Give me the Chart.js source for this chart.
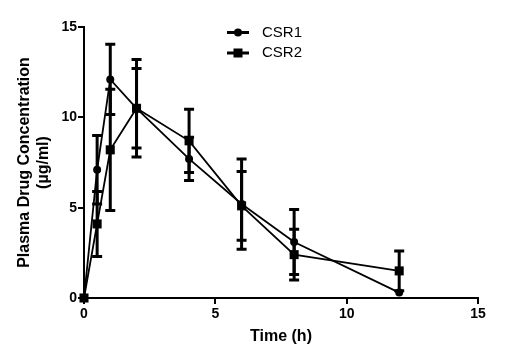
<!DOCTYPE html>
<html>
<head>
<meta charset="utf-8">
<script src="https://cdn.jsdelivr.net/npm/chart.js@4/dist/chart.umd.min.js"></script>
<style>
html,body{margin:0;padding:0;background:#fff;}
#wrap{width:527px;height:360px;position:relative;}
</style>
</head>
<body>
<div id="wrap"><canvas id="c" width="527" height="360"></canvas></div>
<script>
// ---- data ----
const timeH = [0, 0.5, 1, 2, 4, 6, 8, 12];
const seriesNames = ['CSR1', 'CSR2'];
const csr1 = [0, 7.1, 12.1, 10.5, 7.7, 5.2, 3.1, 0.3];
const csr1Sd = [0, 1.9, 1.95, 2.2, 1.2, 2.5, 1.8, 0];
const csr2 = [0, 4.1, 8.2, 10.5, 8.7, 5.1, 2.4, 1.5];
const csr2Sd = [0, 1.8, 3.35, 2.7, 1.75, 1.9, 1.4, 1.1];
const xTicks = [0, 5, 10, 15];
const yTicks = [0, 5, 10, 15];
const xTitle = 'Time (h)';
const yTitle = ['Plasma Drug Concentration', '(µg/ml)'];

const FONT = 'Arial, "Liberation Sans", sans-serif';
const sds = [csr1Sd, csr2Sd];

const errorBars = {
  id: 'errorBars',
  beforeDatasetsDraw(chart) {
    const ctx = chart.ctx;
    const xs = chart.scales.x, ys = chart.scales.y;
    ctx.save();
    ctx.strokeStyle = '#000';
    ctx.lineWidth = 3;
    ctx.lineCap = 'butt';
    chart.data.datasets.forEach((ds, di) => {
      ds.data.forEach((p, i) => {
        const sd = sds[di][i];
        if (!sd) return;
        const x = xs.getPixelForValue(p.x);
        const yt = ys.getPixelForValue(p.y + sd);
        const yb = ys.getPixelForValue(p.y - sd);
        ctx.beginPath();
        ctx.moveTo(x, yt); ctx.lineTo(x, yb);
        ctx.moveTo(x - 5, yt); ctx.lineTo(x + 5, yt);
        ctx.moveTo(x - 5, yb); ctx.lineTo(x + 5, yb);
        ctx.stroke();
      });
    });
    ctx.restore();
  }
};

const customLegend = {
  id: 'customLegend',
  afterDraw(chart) {
    const ctx = chart.ctx;
    ctx.save();
    const rows = [32.5, 53];
    chart.data.datasets.forEach((ds, i) => {
      const y = rows[i];
      ctx.strokeStyle = '#000';
      ctx.lineWidth = 3;
      ctx.beginPath();
      ctx.moveTo(227, y); ctx.lineTo(249, y);
      ctx.stroke();
      ctx.fillStyle = '#000';
      if (ds.pointStyle === 'rect') {
        ctx.fillRect(238 - 4.5, y - 4.5, 9, 9);
      } else {
        ctx.beginPath();
        ctx.arc(238, y, 4, 0, Math.PI * 2);
        ctx.fill();
      }
      ctx.font = '15px ' + FONT;
      ctx.textBaseline = 'middle';
      ctx.textAlign = 'left';
      ctx.fillText(ds.label, 262, y);
    });
    ctx.restore();
  }
};

const mk = (vals) => vals.map((v, i) => ({x: timeH[i], y: v}));

new Chart(document.getElementById('c'), {
  type: 'line',
  data: {
    datasets: [
      {label: seriesNames[0], data: mk(csr1), borderColor: '#000', backgroundColor: '#000',
       borderWidth: 1.8, pointStyle: 'circle', pointRadius: 4, pointBorderWidth: 0, tension: 0, clip: false},
      {label: seriesNames[1], data: mk(csr2), borderColor: '#000', backgroundColor: '#000',
       borderWidth: 1.8, pointStyle: 'rect', pointRadius: 6.4, pointBorderWidth: 0, tension: 0, clip: false}
    ]
  },
  options: {
    responsive: false,
    animation: false,
    devicePixelRatio: 1,
    layout: {padding: {top: 27, right: 49, left: 0, bottom: 0}},
    plugins: {legend: {display: false}, tooltip: {enabled: false}},
    scales: {
      x: {
        type: 'linear', min: 0, max: 15,
        afterFit(s) { s.height = 62; },
        afterBuildTicks(s) { s.ticks = xTicks.map(v => ({value: v})); },
        ticks: {color: '#000', font: {family: FONT, size: 14, weight: 'bold'}, padding: 2, maxRotation: 0},
        grid: {display: true, drawOnChartArea: false, drawTicks: true, tickLength: 6, color: '#000', lineWidth: 2},
        border: {display: true, color: '#000', width: 2},
        title: {display: true, text: xTitle, color: '#000', font: {family: FONT, size: 16, weight: 'bold'}, padding: {top: 0, bottom: 13.5}}
      },
      y: {
        type: 'linear', min: 0, max: 15,
        afterFit(s) { s.width = 84; },
        afterBuildTicks(s) { s.ticks = yTicks.map(v => ({value: v})); },
        ticks: {color: '#000', font: {family: FONT, size: 14, weight: 'bold'}, padding: 1},
        grid: {display: true, drawOnChartArea: false, drawTicks: true, tickLength: 6, color: '#000', lineWidth: 2},
        border: {display: true, color: '#000', width: 2},
        title: {display: true, text: yTitle, color: '#000', font: {family: FONT, size: 16, weight: 'bold'}, padding: {top: 15, bottom: 0}}
      }
    }
  },
  plugins: [errorBars, customLegend]
});
</script>
</body>
</html>
